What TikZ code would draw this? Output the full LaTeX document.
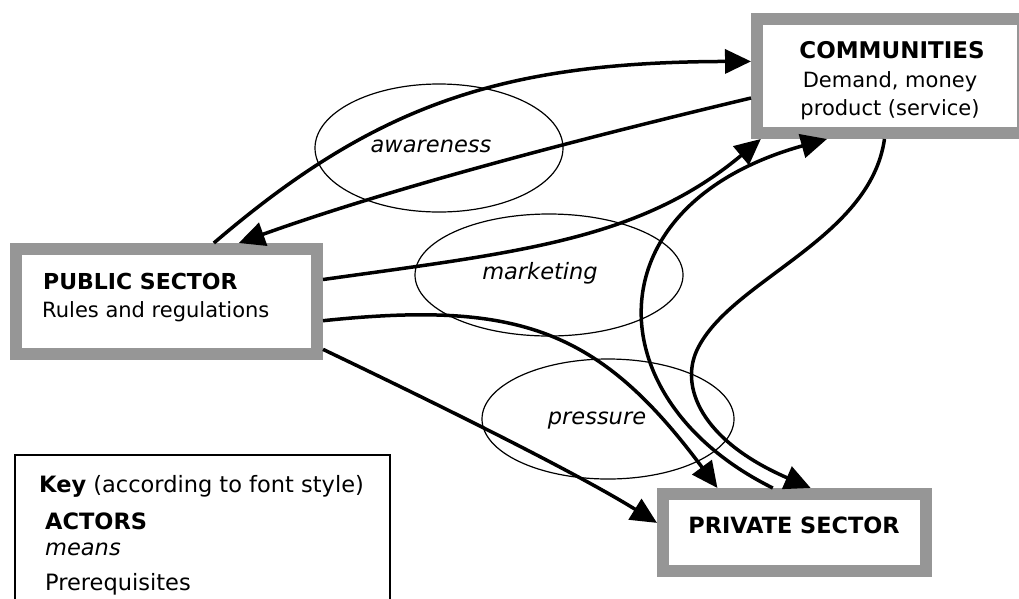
\documentclass[tikz,border=0pt]{standalone}
\usepackage{fontspec}
\setmainfont{DejaVu Sans}
\usetikzlibrary{arrows.meta,shapes.geometric}
\definecolor{boxgray}{RGB}{150,150,150}
\begin{document}
\begin{tikzpicture}[x=1pt,y=-1pt,
  actor/.style={draw=boxgray, line width=12pt, fill=white, inner sep=0pt, rectangle},
  keybox/.style={draw=black, line width=1.3pt, fill=white, inner sep=0pt, rectangle},
  meansell/.style={draw=black, line width=1.2pt, ellipse, inner sep=0pt},
  txt/.style={font=\fontsize{21pt}{25pt}\selectfont, inner sep=0pt},
  btxt/.style={font=\fontsize{22pt}{25pt}\selectfont\bfseries, inner sep=0pt},
  itxt/.style={font=\fontsize{22.5pt}{27pt}\selectfont\itshape, inner sep=0pt},
  ktxt/.style={font=\fontsize{22.5pt}{27pt}\selectfont, inner sep=0pt},
  arr/.style={line width=3.5pt, -{Triangle[length=26pt,width=24pt]}}]
\useasboundingbox (0,0) rectangle (1019,598);
\clip (0,0) rectangle (1019,598);
\fill[white] (0,0) rectangle (1019,598);

% ellipses (means)
\node[meansell, minimum width=248pt, minimum height=128pt] (aw) at (439,148) {};
\node[meansell, minimum width=268pt, minimum height=122pt] (mk) at (549,275) {};
\node[meansell, minimum width=252pt, minimum height=120pt] (pr) at (608,419) {};
\node[itxt, anchor=base] (awt) at (431,152) {awareness};
\node[itxt, anchor=base] (mkt) at (540,279) {marketing};
\node[itxt, anchor=base] (prt) at (597,424) {pressure};

% actor boxes
\node[actor, minimum width=266pt, minimum height=114pt] (comm) at (890,76) {};
\node[actor, minimum width=301pt, minimum height=105pt] (pub) at (166.5,301.5) {};
\node[actor, minimum width=263pt, minimum height=77pt] (priv) at (794.5,532.5) {};

\node[btxt, font=\fontsize{23pt}{25pt}\selectfont\bfseries, anchor=base] (commt1) at (892,58) {COMMUNITIES};
\node[txt, anchor=base] (commt2) at (890,87) {Demand, money};
\node[txt, anchor=base] (commt3) at (890,115) {product (service)};
\node[btxt, anchor=base west] (pubt1) at (43,289) {PUBLIC SECTOR};
\node[txt, anchor=base west] (pubt2) at (42,317) {Rules and regulations};
\node[btxt, font=\fontsize{22.4pt}{25pt}\selectfont\bfseries, anchor=base] (privt) at (794,533) {PRIVATE SECTOR};

% connectors
\draw[arr] (pub.51) .. controls (375,105) and (501,62) .. (comm.174.25);
\draw[arr] (comm.189.4) .. controls (600,134) and (400,185) .. (pub.39.3);
\draw[arr] (pub.8.5) .. controls (520,252) and (640,240) .. (comm.206.7);
\draw[arr] (priv.116.8) .. controls (595,400) and (590,205) .. (comm.225.5);
\coordinate (c5) at (697,350);
\draw[arr] (comm.265.5) .. controls (870,240) and (730,280) .. (c5) .. controls (680,386) and (700,440) .. (priv.70.8);
\draw[arr] (pub.353.6) .. controls (520,300) and (600,330) .. (priv.150.8);
\draw[arr] (pub.343.8) .. controls (450,410) and (580,475) .. (priv.176.9);

% key
\node[keybox, minimum width=375pt, minimum height=170pt] (key) at (202.5,540) {};
\node[ktxt, anchor=base west] (key1) at (39,492) {\textbf{Key} (according to font style)};
\node[ktxt, font=\fontsize{22.5pt}{27pt}\selectfont\bfseries, anchor=base west] (key2) at (45,529) {ACTORS};
\node[ktxt, font=\fontsize{22.5pt}{27pt}\selectfont\itshape, anchor=base west] (key3) at (45,555) {means};
\node[ktxt, anchor=base west] (key4) at (45,590) {Prerequisites};
\end{tikzpicture}
\end{document}
